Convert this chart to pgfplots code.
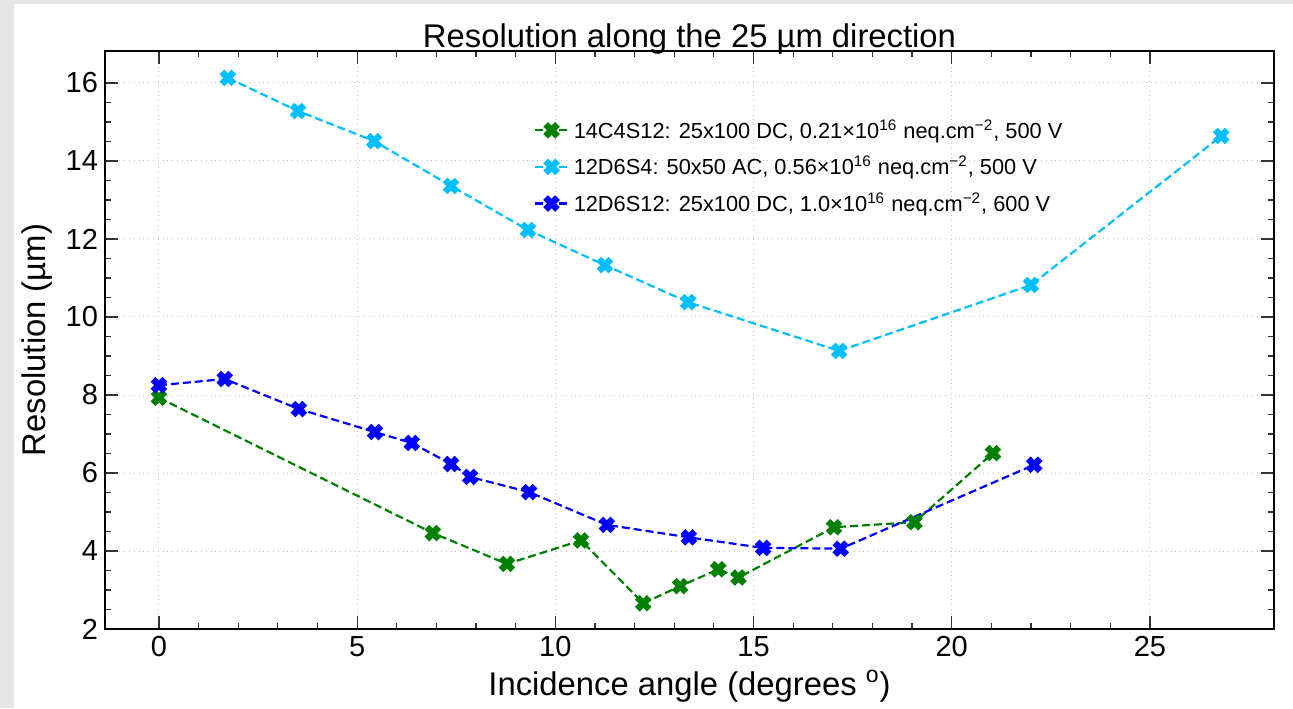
\documentclass[border=0pt]{standalone}
\usepackage{fontspec}
\setmainfont{Liberation Sans}
\usepackage{pgfplots}
\pgfplotsset{compat=1.18}

\definecolor{cgreen}{HTML}{008000}
\definecolor{ccyan}{HTML}{00BFFF}
\definecolor{cblue}{HTML}{0000FF}

\begin{document}
\begin{tikzpicture}
\fill[gray!20] (-52.5pt,-39.5pt) rectangle (594pt,314.5pt);
\fill[white] (-45.5pt,-39.5pt) rectangle (594pt,312.5pt);
\begin{axis}[
  scale only axis, width=584.5pt, height=289pt,
  xmin=-1.36, xmax=28.13, ymin=2, ymax=16.82,
  xtick={0,5,...,25}, ytick={2,4,...,16},
  minor x tick num=4, minor y tick num=3,
  tick align=inside,
  major tick length=6.5pt, minor tick length=3pt,
  every tick/.style={black!80, line width=0.6pt},
  axis line style={line width=1.4pt},
  grid=major, major grid style={gray!45, dotted, line width=0.5pt},
  font=\fontsize{14.5}{17}\selectfont,
  /pgf/number format/assume math mode=true,
  title={Resolution along the 25 µm direction},
  title style={yshift=-11pt, font=\fontsize{16.4}{19}\selectfont},
  xlabel={Incidence angle (degrees \textsuperscript{o})},
  ylabel={Resolution (µm)},
  label style={font=\fontsize{16.4}{19}\selectfont},
  legend style={at={(0.361,0.896)}, anchor=north west, draw=none, fill=none,
    font=\fontsize{10.9}{12.8}\selectfont, row sep=3.5pt},
  legend cell align=left,
  every axis plot/.append style={line width=1.1pt, dash pattern=on 4pt off 2pt,
    mark=x, mark size=4.2pt, mark options={solid, line width=3.3pt, line cap=butt}},
]
\addplot[cgreen] coordinates {
 (0,7.93) (6.91,4.46) (8.78,3.67) (10.65,4.27) (12.22,2.66) (13.15,3.10)
 (14.11,3.53) (14.62,3.32) (17.03,4.61) (19.06,4.74) (21.04,6.51)
};
\addlegendentry{14C4S12: 25x100 DC, 0.21×10\textsuperscript{16} neq.cm\textsuperscript{−2}, 500 V}
\addplot[ccyan] coordinates {
 (1.74,16.13) (3.51,15.28) (5.43,14.51) (7.37,13.36) (9.31,12.23) (11.25,11.33)
 (13.35,10.38) (17.16,9.13) (22.0,10.82) (26.8,14.64)
};
\addlegendentry{12D6S4: 50x50 AC, 0.56×10\textsuperscript{16} neq.cm\textsuperscript{−2}, 500 V}
\addplot[cblue] coordinates {
 (0,8.25) (1.66,8.41) (3.53,7.64) (5.45,7.05) (6.38,6.77) (7.37,6.23) (7.85,5.90)
 (9.34,5.51) (11.30,4.67) (13.37,4.35) (15.24,4.08) (17.20,4.06) (22.08,6.21)
};
\addlegendentry{12D6S12: 25x100 DC, 1.0×10\textsuperscript{16} neq.cm\textsuperscript{−2}, 600 V}
\end{axis}
\end{tikzpicture}
\end{document}
